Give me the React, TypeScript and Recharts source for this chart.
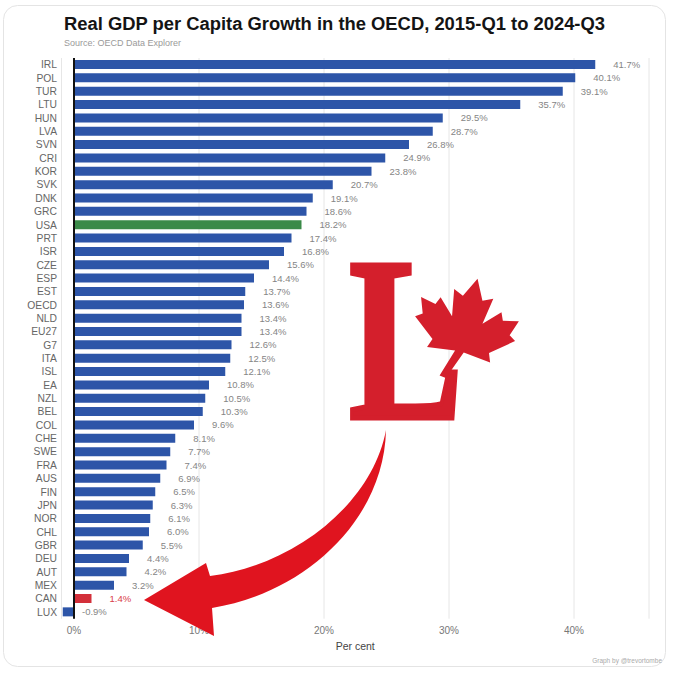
import React from "react";
import {
  BarChart,
  Bar,
  XAxis,
  YAxis,
  CartesianGrid,
  Cell,
  LabelList,
  ReferenceLine,
} from "recharts";

const countries = [
  "IRL", "POL", "TUR", "LTU", "HUN", "LVA", "SVN", "CRI", "KOR", "SVK",
  "DNK", "GRC", "USA", "PRT", "ISR", "CZE", "ESP", "EST", "OECD", "NLD",
  "EU27", "G7", "ITA", "ISL", "EA", "NZL", "BEL", "COL", "CHE", "SWE",
  "FRA", "AUS", "FIN", "JPN", "NOR", "CHL", "GBR", "DEU", "AUT", "MEX",
  "CAN", "LUX",
];

const growth = [
  41.7, 40.1, 39.1, 35.7, 29.5, 28.7, 26.8, 24.9, 23.8, 20.7,
  19.1, 18.6, 18.2, 17.4, 16.8, 15.6, 14.4, 13.7, 13.6, 13.4,
  13.4, 12.6, 12.5, 12.1, 10.8, 10.5, 10.3, 9.6, 8.1, 7.7,
  7.4, 6.9, 6.5, 6.3, 6.1, 6.0, 5.5, 4.4, 4.2, 3.2,
  1.4, -0.9,
];

const xTicks = [0, 10, 20, 30, 40];

const highlight: Record<string, string> = { USA: "#3a8a48", CAN: "#d3303a" };
const BLUE = "#2d55a8";

const data = countries.map((c, i) => ({ country: c, value: growth[i] }));

const ValueLabel = (props: any) => {
  const { x, y, width, height, value, index } = props;
  const right = Math.max(x, x + width);
  const tx = value < 0 ? right + 8 : right + 18;
  const isCan = countries[index] === "CAN";
  return (
    <text
      x={tx}
      y={y + height / 2}
      dominantBaseline="central"
      fontSize={9.5}
      fill={isCan ? "#d9404a" : "#858585"}
      fontFamily="'Liberation Sans', Arial, sans-serif"
    >
      {`${value.toFixed(1)}%`}
    </text>
  );
};

const leafPts = [
  [0, -50], [9, -32], [18, -36], [14, -12], [28, -26], [31, -19], [45, -22],
  [40, -8], [46, -4], [26, 12], [29, 20], [4, 17], [-6, 43], [-12, 42],
  [-4, 17], [-29, 20], [-26, 12], [-46, -4], [-40, -8], [-45, -22],
  [-31, -19], [-28, -26], [-14, -12], [-18, -36], [-9, -32],
];

export default function App() {
  return (
    <div
      style={{
        position: "absolute",
        left: 0,
        top: 0,
        width: 680,
        height: 679,
        background: "#fff",
        fontFamily: "'Liberation Sans', Arial, sans-serif",
      }}
    >
      <div style={{ position: "absolute", left: 0, top: 0 }}>
        <BarChart
          width={680}
          height={679}
          data={data}
          layout="vertical"
          margin={{ top: 58, right: 31, bottom: 0, left: 0 }}
          barCategoryGap="15%"
        >
          <CartesianGrid horizontal={false} stroke="#e6e6e6" />
          <XAxis
            type="number"
            domain={[-1, 46]}
            ticks={xTicks}
            tickFormatter={(v: number) => `${v}%`}
            axisLine={false}
            tickLine={false}
            height={60.3}
            tick={{ fontSize: 10, fill: "#777" }}
            label={{
              value: "Per cent",
              position: "insideBottom",
              offset: 29,
              fontSize: 10.5,
              fill: "#444",
            }}
          />
          <YAxis
            type="category"
            dataKey="country"
            width={61.5}
            axisLine={false}
            tickLine={false}
            tickSize={0}
            tickMargin={4.5}
            interval={0}
            tick={{ fontSize: 10.3, fill: "#666" }}
          />
          <Bar dataKey="value" isAnimationActive={false}>
            {data.map((d) => (
              <Cell key={d.country} fill={highlight[d.country] || BLUE} />
            ))}
            <LabelList dataKey="value" content={ValueLabel} />
          </Bar>
          <ReferenceLine x={0} stroke="#111" strokeWidth={2} />
        </BarChart>
      </div>
      <svg
        width={680}
        height={679}
        style={{ position: "absolute", left: 0, top: 0, pointerEvents: "none" }}
      >
        <rect
          x={3.5}
          y={5.5}
          width={662}
          height={661}
          rx={14}
          fill="none"
          stroke="#e4e4e4"
        />
        <text
          x={64}
          y={29.5}
          fontSize={18.3}
          fontWeight="bold"
          fill="#141414"
          textLength={541}
          lengthAdjust="spacingAndGlyphs"
          fontFamily="'Liberation Sans', Arial, sans-serif"
        >
          Real GDP per Capita Growth in the OECD, 2015-Q1 to 2024-Q3
        </text>
        <text
          x={64}
          y={46}
          fontSize={9}
          fill="#9a9a9a"
          fontFamily="'Liberation Sans', Arial, sans-serif"
        >
          Source: OECD Data Explorer
        </text>
        <text
          x={662}
          y={663}
          fontSize={6.5}
          fill="#aaa"
          textAnchor="end"
          fontFamily="'Liberation Sans', Arial, sans-serif"
        >
          Graph by @trevortombe
        </text>
        <text
          x={349}
          y={418}
          fontSize={233}
          fontWeight="bold"
          fill="#d41f2c"
          stroke="#d41f2c"
          strokeWidth={5}
          strokeLinejoin="miter"
          textLength={114}
          lengthAdjust="spacingAndGlyphs"
          fontFamily="'Liberation Serif', 'DejaVu Serif', serif"
        >
          L
        </text>
        <polygon
          points={leafPts.map((p) => p.join(",")).join(" ")}
          fill="#d41f2c"
          transform="translate(464,333) rotate(14) scale(1.12)"
        />
        <path
          d="M386,430 C384,522 302,594 212,608 L214,636 L144,600 L206,563 L210,576 C292,566 372,505 386,430 Z"
          fill="#e0141f"
        />
      </svg>
    </div>
  );
}
